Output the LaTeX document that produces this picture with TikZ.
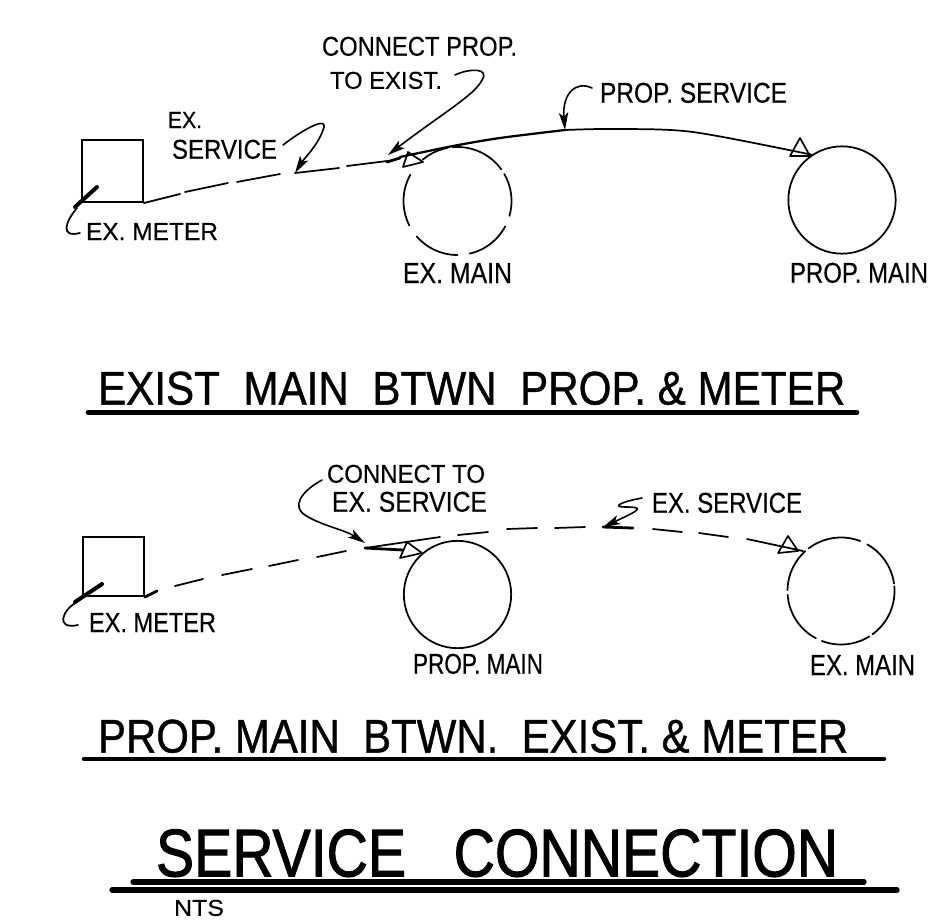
\documentclass[tikz,border=0pt]{standalone}
\usepackage{fontspec}
\usepackage{graphicx}
\setmainfont{Liberation Sans}
\newfontfamily\lblfont[FakeBold=0.35]{Liberation Sans}
\newfontfamily\headfont[FakeBold=0.9]{Liberation Sans}
\newfontfamily\titlefont[FakeBold=1.6]{Liberation Sans}
\usetikzlibrary{arrows.meta}
\tikzset{
  lab/.style={inner sep=0pt,outer sep=0pt,anchor=south west},
  ln/.style={line width=1.3pt,line cap=round,line join=round,black},
  thickln/.style={line width=2.1pt,line cap=round,line join=round,black},
  leader/.style={line width=1.2pt,line cap=round,black,-{Stealth[length=13pt,width=7pt,inset=3pt]}},
  rule/.style={line width=3.4pt,line cap=round,black},
  mainc/.style={circle,draw,line width=1.3pt,inner sep=0pt,minimum size=80.5pt},
  meter/.style={rectangle,draw,line width=1.5pt,inner sep=0pt},
  tri/.style={line width=1.25pt,line join=round,black},
  tick/.style={line width=3pt,line cap=round,black}
}
% name, x left, x right, y top, y bottom, text (all in reference pixels)
\newcommand\lbl[6]{\node[lab] (#1) at (#2,#5)
  {\resizebox{\the\dimexpr(#3pt-#2pt)*3/4\relax}{\the\dimexpr(#5pt-#4pt)*3/4\relax}{#6}};}
% centre x, centre y, radius, list of a/b arc pairs
\newcommand\garc[4]{\foreach \a/\b in {#4}{
  \draw[ln] plot[domain=\a:\b,samples=30,smooth] ({#1+#3*cos(\x)},{#2-#3*sin(\x)});}}
\begin{document}
\begin{tikzpicture}[x=0.75pt,y=-0.75pt]
\useasboundingbox (0,0) rectangle (937,921);
\fill[white] (0,0) rectangle (937,921);

% ---------- upper detail
\node[meter,minimum width=45.75pt,minimum height=46.5pt] (mA) at (112.5,171) {};
\node[mainc] (pmA) at (842,200) {};
\garc{457.5}{201}{54}{130/101,95/36,30/-16,-28/-77,-90/-139,-153/-209}
\draw[ln] (mA.south east) -- (180,194);
\draw[ln] (185,192) -- (228,183);
\draw[ln] (237,182) -- (280,174);
\coordinate (jEx) at (295,173);
\draw[ln] (jEx) -- (339,168);
\draw[ln] (347,166) -- (387,161);
\coordinate (jProp) at (387,162);
\coordinate (pTap) at (565,130);
\coordinate (pEnd) at (813,155);
\draw[thickln] (jProp) -- (400,158);
\draw[line width=1.7pt,line cap=round,black] plot[smooth] coordinates {(400,157)(453,146)(500,138)(pTap)};
\draw[ln] plot[smooth] coordinates {(pTap)(613,129)(693,132)(pEnd)};
\draw[tri] (403,167) -- (408,152) -- (423,162) -- cycle;
\draw[tri] (790,156) -- (800,138) -- (810,156) -- cycle;

\draw[tick] (75,207) -- (97,187);
\lbl{lExMeterA}{86}{218}{223}{240}{\lblfont EX. METER}
\draw[ln] (77,208) .. controls (65,222) and (60,238) .. (80,233);
\lbl{lExA}{168}{202}{112}{128}{\lblfont EX.}
\lbl{lSvcA}{172}{277}{140}{159}{\lblfont SERVICE}
\draw[leader] (283,145) .. controls (305,128) and (330,115) .. (323,130) .. controls (318,145) and (303,160) .. (jEx);
\lbl{lConnA}{322}{517}{37}{56}{\lblfont CONNECT PROP.}
\lbl{lToA}{330}{442}{72}{89}{\lblfont TO EXIST.}
\draw[leader] (455,75) .. controls (470,68) and (490,68) .. (482,80) .. controls (475,95) and (440,115) .. (388,155);
\lbl{lMainA}{403}{512}{263}{283}{\lblfont EX. MAIN}
\lbl{lPsvc}{600}{787}{83}{103}{\lblfont PROP. SERVICE}
\draw[leader] (592,88) .. controls (575,80) and (562,95) .. (pTap);
\lbl{lPmain}{790}{928}{263}{283}{\lblfont PROP. MAIN}
\lbl{hA}{98}{845}{372}{405}{\headfont EXIST\ \ MAIN\ \ BTWN\ \ PROP. \& METER}
\coordinate (hAl) at (88,412.5);
\coordinate (hAr) at (857,412.5);
\draw[rule] (hAl) -- (hAr);

% ---------- lower detail
\node[meter,minimum width=45.75pt,minimum height=44.25pt] (mB) at (113.5,566.5) {};
\node[mainc] (pmB) at (457.5,594.5) {};
\garc{841}{591}{53.5}{127/69,60.5/8,5/-54,-58/-111,-118/-176,179/132}
\draw[thickln] (mB.south east) -- (157,591);
\draw[ln] (175,586) -- (203,579);
\draw[ln] (222,575) -- (252,569);
\draw[ln] (269,566) -- (298,560);
\draw[ln] (317,557) -- (346,551);
\coordinate (jB) at (365,548);
\draw[ln] (jB) -- (440,537);
\draw[thickln] (jB) -- (403,550);
\draw[tri] (400,558) -- (407,542) -- (422,553) -- cycle;
\draw[ln] (458,535) -- (488,532);
\draw[ln] (507,529) -- (537,528);
\draw[ln] (555,528) -- (585,527);
\coordinate (jSvc) at (603,527);
\draw[thickln] (jSvc) -- (633,528);
\draw[ln] (653,529) -- (682,532);
\draw[ln] (699,533) -- (728,537);
\draw[ln] (747,539) -- (803,551);
\draw[tri] (778,553) -- (788,536) -- (798,551) -- cycle;

\draw[tick] (75,602) -- (102,584);
\lbl{lExMeterB}{89}{216}{613}{632}{\lblfont EX. METER}
\draw[ln] (77,602) .. controls (62,610) and (55,630) .. (78,625);
\lbl{lConnB}{327}{485}{465}{483}{\lblfont CONNECT TO}
\lbl{lSvcB}{332}{487}{492}{512}{\lblfont EX. SERVICE}
\draw[leader] (322,480) .. controls (300,492) and (292,507) .. (305,515) .. controls (320,525) and (345,530) .. (365,543);
\lbl{lSvcC}{652}{802}{493}{513}{\lblfont EX. SERVICE}
\draw[leader] (642,498) .. controls (620,502) and (612,507) .. (625,507) .. controls (645,507) and (640,510) .. (jSvc);
\lbl{lPmainB}{413}{543}{654}{674}{\lblfont PROP. MAIN}
\lbl{lMainB}{810}{915}{655}{675}{\lblfont EX. MAIN}
\lbl{hB}{98}{848}{720}{753}{\headfont PROP.\ MAIN\ \ BTWN.\ \ EXIST. \& METER}
\coordinate (hBl) at (84,759);
\coordinate (hBr) at (884,759);
\draw[rule] (hBl) -- (hBr);

% ---------- title
\lbl{tTitle}{156}{838}{830}{877}{\titlefont SERVICE\ \ \ CONNECTION}
\coordinate (r1l) at (133,882);
\coordinate (r1r) at (864,882);
\coordinate (r2l) at (112,890);
\coordinate (r2r) at (897,890);
\draw[rule,line width=4pt] (r1l) -- (r1r);
\draw[rule,line width=4pt] (r2l) -- (r2r);
\lbl{lNts}{174}{224}{900}{916}{\lblfont NTS}
\end{tikzpicture}
\end{document}
